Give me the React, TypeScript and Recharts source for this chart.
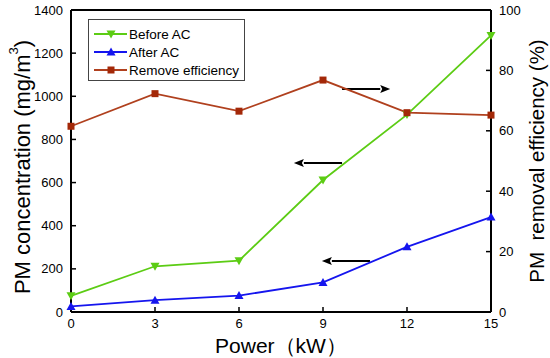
import { LineChart, Line, XAxis, YAxis, ReferenceLine } from 'recharts';

const power = [0, 3, 6, 9, 12, 15];
const beforeAC = [75, 212, 238, 612, 915, 1282];
const afterAC = [26, 55, 76, 137, 302, 440];
const removeEff = [61.5, 72.3, 66.5, 76.8, 66, 65.2];

const xTicks = [0, 3, 6, 9, 12, 15];
const leftTicks = [0, 200, 400, 600, 800, 1000, 1200, 1400];
const rightTicks = [0, 20, 40, 60, 80, 100];

const data = power.map((p, i) => ({ power: p, before: beforeAC[i], after: afterAC[i], eff: removeEff[i] }));

const FONT = 'Arial, "Liberation Sans", sans-serif';
const GREEN = '#5ccc14';
const BLUE = '#1515ee';
const BROWN = '#b0401e';
const BROWN_DOT = '#a32808';

const DownTri = (props: any) => {
  const { cx, cy } = props;
  if (cx == null || cy == null) return null;
  return <polygon points={`${cx - 4.5},${cy - 3.5} ${cx + 4.5},${cy - 3.5} ${cx},${cy + 4.5}`} fill={GREEN} />;
};
const UpTri = (props: any) => {
  const { cx, cy } = props;
  if (cx == null || cy == null) return null;
  return <polygon points={`${cx - 4.5},${cy + 3.5} ${cx + 4.5},${cy + 3.5} ${cx},${cy - 4.5}`} fill={BLUE} />;
};
const Square = (props: any) => {
  const { cx, cy } = props;
  if (cx == null || cy == null) return null;
  return <rect x={cx - 3.5} y={cy - 3.5} width={7} height={7} fill={BROWN_DOT} />;
};

const arrow = (p: any) => {
  const { x1, y1, x2, y2 } = p;
  const dir = x2 > x1 ? 1 : -1;
  const hx = x2 - dir * 10;
  return (
    <g>
      <line x1={x1} y1={y1} x2={hx} y2={y2} stroke="#000" strokeWidth={2} />
      <polygon points={`${x2},${y2} ${hx},${y2 - 4} ${hx + dir * 2},${y2} ${hx},${y2 + 4}`} fill="#000" />
    </g>
  );
};

const legendItems = [
  { name: 'Before AC', color: GREEN, Mark: DownTri },
  { name: 'After AC', color: BLUE, Mark: UpTri },
  { name: 'Remove efficiency', color: BROWN, Mark: Square },
];

const LegendBox = () => (
  <div style={{ position: 'absolute', left: 88, top: 19, border: '1px solid #444', background: '#fff', width: 157, height: 62, boxSizing: 'border-box', paddingTop: 5 }}>
    {legendItems.map((it) => (
      <div key={it.name} style={{ display: 'flex', alignItems: 'center', height: 18, fontFamily: FONT, fontSize: 13.5, color: '#000' }}>
        <svg width={36} height={14} style={{ marginLeft: 4 }}>
          <line x1={1} y1={7} x2={34} y2={7} stroke={it.color} strokeWidth={2} />
          <it.Mark cx={18} cy={7} />
        </svg>
        <span>{it.name}</span>
      </div>
    ))}
  </div>
);

const LeftLabel = (props: any) => {
  const { viewBox } = props;
  const cx = viewBox.x + 22;
  const cy = viewBox.y + viewBox.height / 2 + 6;
  return (
    <text x={cx} y={cy} transform={`rotate(-90 ${cx} ${cy})`} textAnchor="middle" dominantBaseline="central" fontFamily={FONT} fontSize={22} fill="#000">
      PM concentration (mg/m<tspan dy={-9} fontSize={13}>3</tspan><tspan dy={9}>)</tspan>
    </text>
  );
};

const RightLabel = (props: any) => {
  const { viewBox } = props;
  const cx = viewBox.x + 45;
  const cy = viewBox.y + viewBox.height / 2;
  return (
    <text x={cx} y={cy} transform={`rotate(-90 ${cx} ${cy})`} textAnchor="middle" dominantBaseline="central" fontFamily={FONT} fontSize={20.5} fill="#000" style={{ whiteSpace: 'pre' }}>
      {'PM  removal efficiency (%)'}
    </text>
  );
};

export default function App() {
  const tick = { fontFamily: FONT, fontSize: 13, fill: '#000' };
  return (
    <div style={{ position: 'absolute', left: 0, top: 0, width: 550, height: 358, background: '#fff' }}>
      <LineChart width={550} height={358} data={data} margin={{ top: 10, right: 0, bottom: 0, left: 0 }}>
        <XAxis
          dataKey="power"
          type="number"
          domain={[0, 15]}
          ticks={xTicks}
          height={46}
          tick={tick}
          tickSize={-5}
          tickMargin={12}
          axisLine={{ stroke: '#000', strokeWidth: 2 }}
          tickLine={{ stroke: '#000', strokeWidth: 1.5 }}
          label={{ value: 'Power（kW）', position: 'center', dy: 11, fontFamily: FONT, fontSize: 21, fill: '#000' }}
        />
        <YAxis
          yAxisId="left"
          domain={[0, 1400]}
          ticks={leftTicks}
          width={71}
          tick={tick}
          tickSize={-5}
          tickMargin={13}
          axisLine={{ stroke: '#000', strokeWidth: 2 }}
          tickLine={{ stroke: '#000', strokeWidth: 1.5 }}
          label={<LeftLabel />}
        />
        <YAxis
          yAxisId="right"
          orientation="right"
          domain={[0, 100]}
          ticks={rightTicks}
          width={59}
          tick={tick}
          tickSize={-5}
          tickMargin={13}
          axisLine={{ stroke: '#000', strokeWidth: 2 }}
          tickLine={{ stroke: '#000', strokeWidth: 1.5 }}
          label={<RightLabel />}
        />
        <ReferenceLine yAxisId="left" y={1400} stroke="#000" strokeWidth={2} />
        <ReferenceLine yAxisId="left" segment={[{ x: 9.68, y: 1034 }, { x: 11.4, y: 1034 }]} shape={arrow} />
        <ReferenceLine yAxisId="left" segment={[{ x: 9.68, y: 691 }, { x: 7.96, y: 691 }]} shape={arrow} />
        <ReferenceLine yAxisId="left" segment={[{ x: 10.68, y: 236 }, { x: 8.96, y: 236 }]} shape={arrow} />
        <Line yAxisId="left" dataKey="before" stroke={GREEN} strokeWidth={1.8} dot={<DownTri />} activeDot={false} isAnimationActive={false} />
        <Line yAxisId="left" dataKey="after" stroke={BLUE} strokeWidth={1.8} dot={<UpTri />} activeDot={false} isAnimationActive={false} />
        <Line yAxisId="right" dataKey="eff" stroke={BROWN} strokeWidth={1.8} dot={<Square />} activeDot={false} isAnimationActive={false} />
      </LineChart>
      <LegendBox />
    </div>
  );
}
